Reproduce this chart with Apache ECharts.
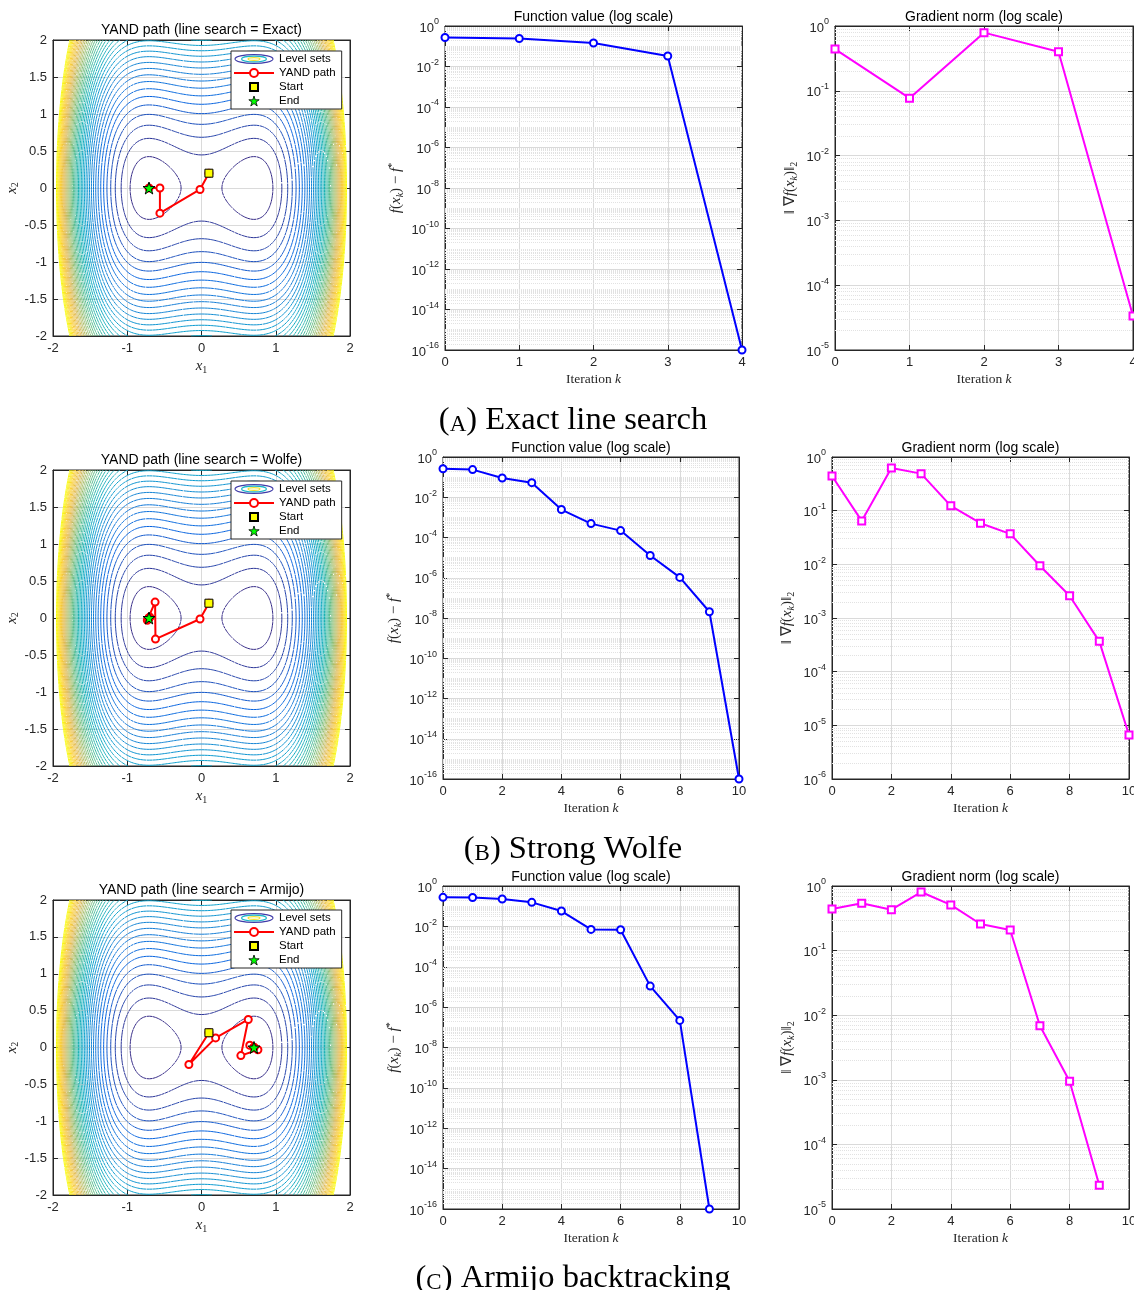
<!DOCTYPE html>
<html>
<head>
<meta charset="utf-8">
<script src="https://cdn.jsdelivr.net/npm/echarts@6/dist/echarts.min.js"></script>
<style>
  html, body { margin: 0; padding: 0; background: #fff; }
  #main { width: 1134px; height: 1290px; }
</style>
</head>
<body>
<div id="main"></div>
<script>
// ---------------- data ----------------
var methodNames = ['Exact', 'Wolfe', 'Armijo'];
var captionLetters = ['A', 'B', 'C'];
var captionTexts = ['Exact line search', 'Strong Wolfe', 'Armijo backtracking'];

// iterates x_k = (x1, x2)
var pathExact = [[0.10, 0.20], [-0.02, -0.02], [-0.56, -0.34], [-0.56, 0.00], [-0.707, 0.00]];
var pathWolfe = [[0.10, 0.20], [-0.02, -0.014], [-0.62, -0.285], [-0.625, 0.215], [-0.73, -0.03],
                 [-0.695, 0.012], [-0.715, -0.008], [-0.708, 0.002], [-0.707, 0.0], [-0.707, 0.0], [-0.707, 0.0]];
var pathArmijo = [[0.10, 0.20], [-0.17, -0.23], [0.19, 0.13], [0.63, 0.38], [0.53, -0.11],
                  [0.76, -0.03], [0.65, 0.03], [0.705, 0.003], [0.707, 0.0], [0.707, 0.0]];

// f(x_k) - f*
var fvalExact = [0.27, 0.24, 0.145, 0.033, 1e-16];
var fvalWolfe = [0.26, 0.236, 0.091, 0.053, 2.45e-3, 4.9e-4, 2.2e-4, 1.28e-5, 1.04e-6, 2.05e-8, 1e-16];
var fvalArmijo = [0.275, 0.27, 0.226, 0.155, 0.0575, 7.1e-3, 6.8e-3, 1.1e-5, 2.2e-7, 1e-16];

// ||grad f(x_k)||_2
var gnormExact = [0.44, 0.077, 0.79, 0.40, 3.35e-5];
var gnormWolfe = [0.443, 0.0645, 0.624, 0.49, 0.123, 0.0584, 0.037, 9.4e-3, 2.6e-3, 3.67e-4, 6.6e-6];
var gnormArmijo = [0.44, 0.54, 0.43, 0.807, 0.51, 0.258, 0.208, 6.85e-3, 9.5e-4, 2.33e-5];

var iterMax = [4, 10, 10];
var iterStep = [1, 2, 2];
var gnormMin = [1e-5, 1e-6, 1e-5];

// contour levels of the objective shown as "Level sets"
var contourLevels = [0.18, 0.45, 0.72, 0.99, 1.26, 1.53, 1.80, 2.07, 2.34, 2.61, 2.88, 3.15, 3.42,
  3.69, 3.96, 4.23, 4.50, 4.77, 5.04, 5.31, 5.58, 5.85, 6.12, 6.39, 6.66, 6.93, 7.20, 7.47, 7.74,
  8.01, 8.28, 8.55, 8.82, 9.09, 9.36, 9.63, 9.90, 10.17, 10.44, 10.71, 10.98];

// objective whose level sets are drawn
function objective(a, b) { return (a * a - 0.5) * (a * a - 0.5) + b * b; }

// ---------------- helpers ----------------
var FONT = 'Liberation Sans, Arial, Helvetica, sans-serif';
var SERIF = 'Liberation Serif, Times New Roman, serif';
var AX = '#262626';

var parula = [[0, [53, 42, 135]], [0.127, [3, 99, 225]], [0.238, [20, 129, 214]], [0.333, [7, 156, 207]],
  [0.444, [21, 177, 180]], [0.556, [89, 189, 140]], [0.667, [165, 190, 107]], [0.778, [225, 185, 82]],
  [0.889, [252, 206, 46]], [1, [249, 251, 14]]];
function parulaColor(t) {
  for (var i = 1; i < parula.length; i++) {
    if (t <= parula[i][0]) {
      var a = parula[i - 1], b = parula[i], u = (t - a[0]) / (b[0] - a[0]);
      var c = a[1].map(function (v, j) { return Math.round(v + (b[1][j] - v) * u); });
      return 'rgb(' + c.join(',') + ')';
    }
  }
  return 'rgb(249,251,14)';
}

// marching squares -> segments separated by gaps
function buildContours(levels, lo, hi, n) {
  var h = (hi - lo) / n, z = [];
  for (var i = 0; i <= n; i++) {
    z.push([]);
    for (var j = 0; j <= n; j++) z[i].push(objective(lo + i * h, lo + j * h));
  }
  var gap = [null, null];
  return levels.map(function (c) {
    var out = [];
    for (var i = 0; i < n; i++) {
      for (var j = 0; j < n; j++) {
        var x0 = lo + i * h, y0 = lo + j * h;
        var a = z[i][j] - c, b = z[i + 1][j] - c, cc = z[i + 1][j + 1] - c, d = z[i][j + 1] - c;
        var p = [];
        if ((a < 0) !== (b < 0)) p.push([x0 + h * a / (a - b), y0]);
        if ((b < 0) !== (cc < 0)) p.push([x0 + h, y0 + h * b / (b - cc)]);
        if ((d < 0) !== (cc < 0)) p.push([x0 + h * d / (d - cc), y0 + h]);
        if ((a < 0) !== (d < 0)) p.push([x0, y0 + h * a / (a - d)]);
        if (p.length === 2) {
          out.push(p[0], p[1], gap);
        } else if (p.length === 4) {
          var m = (a + b + cc + d) / 4;
          if ((m < 0) === (a < 0)) out.push(p[0], p[1], gap, p[2], p[3], gap);
          else out.push(p[0], p[3], gap, p[1], p[2], gap);
        }
      }
    }
    return out;
  });
}

var contourData = buildContours(contourLevels, -2, 2, 200);

var paths = [pathExact, pathWolfe, pathArmijo];
var fvals = [fvalExact, fvalWolfe, fvalArmijo];
var gnorms = [gnormExact, gnormWolfe, gnormArmijo];

var contourBoxes = [{left: 53, top: 40, width: 297, height: 296}, {left: 53, top: 470, width: 297, height: 296}, {left: 53, top: 900, width: 297, height: 295}];
var fvalBoxes = [{left: 445, top: 26, width: 297, height: 324}, {left: 443, top: 457, width: 296, height: 322}, {left: 443, top: 886, width: 296, height: 323}];
var gnormBoxes = [{left: 835, top: 26, width: 298, height: 324}, {left: 832, top: 457, width: 297, height: 322}, {left: 832, top: 886, width: 297, height: 323}];
var legendTops = [51, 481, 910];
var captionY = [418, 847, 1276];

var mathRich = {
  mi: {fontFamily: SERIF, fontStyle: 'italic', fontSize: 15, lineHeight: 18, color: AX},
  rm: {fontFamily: SERIF, fontSize: 15, lineHeight: 18, color: AX},
  sb: {fontFamily: SERIF, fontSize: 10, lineHeight: 10, verticalAlign: 'bottom', color: AX},
  sbi: {fontFamily: SERIF, fontStyle: 'italic', fontSize: 10, lineHeight: 10, verticalAlign: 'bottom', color: AX},
  sp: {fontFamily: SERIF, fontSize: 10, lineHeight: 10, verticalAlign: 'top', color: AX},
  it: {fontFamily: SERIF, fontSize: 13.5, lineHeight: 18, color: AX},
  iti: {fontFamily: SERIF, fontStyle: 'italic', fontSize: 13.5, lineHeight: 18, color: AX}
};
var expRich = {
  b: {fontFamily: FONT, fontSize: 13, lineHeight: 17, verticalAlign: 'bottom', color: AX},
  e: {fontFamily: FONT, fontSize: 9, lineHeight: 10, verticalAlign: 'top', color: AX}
};
function expLabel(v) { return '{b|10}{e|' + Math.round(Math.log10(v)) + '}'; }

var starSymbol = 'path://M50 2 L61.8 38 L99 38 L69 60 L80.5 97 L50 74 L19.5 97 L31 60 L1 38 L38.2 38 Z';
var levelIconSvg = "<svg xmlns='http://www.w3.org/2000/svg' width='40' height='10' viewBox='0 0 40 10'>" +
  "<ellipse cx='20' cy='5' rx='19' ry='4.4' fill='none' stroke='#3e3aa8' stroke-width='1.1'/>" +
  "<ellipse cx='20' cy='5' rx='12.5' ry='2.9' fill='none' stroke='#19b5c8' stroke-width='1.1'/>" +
  "<ellipse cx='20' cy='5' rx='6' ry='1.4' fill='none' stroke='#f0e22a' stroke-width='1.1'/></svg>";
var levelIcon = 'image://data:image/svg+xml;charset=utf-8,' + encodeURIComponent(levelIconSvg);

var grids = [], xAxes = [], yAxes = [], series = [], legends = [], graphics = [];

function addGrid(box) {
  grids.push(Object.assign({show: true, borderColor: AX, borderWidth: 1, containLabel: false, outerBoundsMode: 'none'}, box));
  return grids.length - 1;
}

function tickStyle() { return {show: true, inside: true, length: 5, lineStyle: {color: AX, width: 1}}; }

// main axis + mirrored axis (for the box ticks)
function addAxisPair(list, gi, pos, mirror, cfg, label, name) {
  var main = Object.assign({
    gridIndex: gi, position: pos,
    axisLine: {show: true, onZero: false, lineStyle: {color: AX, width: 1}},
    axisTick: tickStyle(),
    axisLabel: Object.assign({color: AX, fontSize: 13, fontFamily: FONT, margin: 6, showMinLabel: true, showMaxLabel: true}, label),
    splitLine: {show: true, lineStyle: {color: '#dadada', width: 1}}
  }, cfg, name);
  list.push(main);
  var idx = list.length - 1;
  list.push(Object.assign({
    gridIndex: gi, position: mirror,
    axisLine: {show: true, onZero: false, lineStyle: {color: AX, width: 1}},
    axisTick: tickStyle(), axisLabel: {show: false}, splitLine: {show: false}
  }, cfg));
  return idx;
}

function minorLogValues(lo, hi, skipOdd) {
  var out = [];
  for (var e = lo; e < hi; e++) {
    for (var m = (skipOdd && (e % 2 !== 0)) ? 1 : 2; m <= 9; m++) out.push(m * Math.pow(10, e));
  }
  return out;
}

function minorGrid(values) {
  return {silent: true, z: 1, precision: 20, symbol: ['none', 'none'], label: {show: false}, animation: false,
    emphasis: {disabled: true}, lineStyle: {type: 'dotted', color: '#e2e2e2', width: 1},
    data: values.map(function (v) { return {yAxis: v}; })};
}

for (var r = 0; r < 3; r++) {
  // ---- contour panel ----
  var gi = addGrid(contourBoxes[r]);
  var xi = addAxisPair(xAxes, gi, 'bottom', 'top', {type: 'value', min: -2, max: 2, interval: 1}, {},
    {name: '{mi|x}{sb|1}', nameLocation: 'middle', nameGap: 21, nameTextStyle: {rich: mathRich}});
  var yi = addAxisPair(yAxes, gi, 'left', 'right', {type: 'value', min: -2, max: 2, interval: 0.5}, {},
    {name: '{mi|x}{sb|2}', nameLocation: 'middle', nameGap: 30, nameRotate: 90, nameTextStyle: {rich: mathRich}});
  var lmin = contourLevels[0], lmax = contourLevels[contourLevels.length - 1];
  contourLevels.forEach(function (lv, li) {
    series.push({
      type: 'line', name: 'Level sets', xAxisIndex: xi, yAxisIndex: yi,
      data: contourData[li], showSymbol: false, symbol: 'none', silent: true, z: 2,
      lineStyle: {color: parulaColor((lv - lmin) / (lmax - lmin)), width: 1}
    });
  });
  var path = paths[r];
  series.push({
    type: 'line', name: 'YAND path', xAxisIndex: xi, yAxisIndex: yi, data: path, z: 3,
    symbol: 'emptyCircle', symbolSize: 7, showSymbol: true,
    lineStyle: {color: '#ff0000', width: 2}, itemStyle: {color: '#ff0000', borderWidth: 1.5}
  });
  series.push({
    type: 'line', name: 'Start', xAxisIndex: xi, yAxisIndex: yi, data: [path[0]], z: 4,
    symbol: 'rect', symbolSize: 8, lineStyle: {width: 0, opacity: 0},
    itemStyle: {color: '#ffff00', borderColor: '#000', borderWidth: 1}
  });
  series.push({
    type: 'line', name: 'End', xAxisIndex: xi, yAxisIndex: yi, data: [path[path.length - 1]], z: 4,
    symbol: starSymbol, symbolSize: 12, lineStyle: {width: 0, opacity: 0},
    itemStyle: {color: '#00ff00', borderColor: '#000', borderWidth: 1}
  });
  legends.push({
    left: 231, top: legendTops[r], orient: 'vertical', itemGap: 0, itemWidth: 40, itemHeight: 10,
    padding: [1, 6, 1, 2], backgroundColor: '#fff', borderColor: AX, borderWidth: 1, selectedMode: false,
    textStyle: {fontSize: 11.5, color: '#000', fontFamily: FONT, lineHeight: 14},
    data: [
      {name: 'Level sets', icon: levelIcon},
      'YAND path',
      'Start',
      {name: 'End', icon: starSymbol, itemStyle: {color: '#00ff00', borderColor: '#000', borderWidth: 0.8}}
    ]
  });
  var cb = contourBoxes[r];
  graphics.push({type: 'text', x: cb.left + cb.width / 2, y: cb.top - 10, z: 10,
    style: {text: 'YAND path (line search = ' + methodNames[r] + ')', fontSize: 14, fontFamily: FONT, fill: '#000', align: 'center', verticalAlign: 'middle'}});

  // ---- function value panel ----
  var fb = fvalBoxes[r];
  gi = addGrid(fb);
  xi = addAxisPair(xAxes, gi, 'bottom', 'top', {type: 'value', min: 0, max: iterMax[r], interval: iterStep[r]}, {},
    {name: '{it|Iteration }{iti|k}', nameLocation: 'middle', nameGap: 20, nameTextStyle: {rich: mathRich}});
  yi = addAxisPair(yAxes, gi, 'left', 'right', {type: 'log', logBase: 100, min: 1e-16, max: 1, splitNumber: 8},
    {formatter: expLabel, rich: expRich},
    {name: '{mi|f}{rm|(}{mi|x}{sbi|k}{rm|) − }{mi|f}{sp|*}', nameLocation: 'middle', nameGap: 40, nameRotate: 90, nameTextStyle: {rich: mathRich}});
  series.push({
    type: 'line', name: 'fval', xAxisIndex: xi, yAxisIndex: yi, z: 3, clip: false,
    data: fvals[r].map(function (v, k) { return [k, v]; }),
    symbol: 'emptyCircle', symbolSize: 7, lineStyle: {color: '#0000ff', width: 2},
    itemStyle: {color: '#0000ff', borderWidth: 1.6},
    markLine: minorGrid(minorLogValues(-16, 0, true))
  });
  graphics.push({type: 'text', x: fb.left + fb.width / 2, y: fb.top - 9, z: 10,
    style: {text: 'Function value (log scale)', fontSize: 14, fontFamily: FONT, fill: '#000', align: 'center', verticalAlign: 'middle'}});

  // ---- gradient norm panel ----
  var gb = gnormBoxes[r];
  gi = addGrid(gb);
  xi = addAxisPair(xAxes, gi, 'bottom', 'top', {type: 'value', min: 0, max: iterMax[r], interval: iterStep[r]}, {},
    {name: '{it|Iteration }{iti|k}', nameLocation: 'middle', nameGap: 20, nameTextStyle: {rich: mathRich}});
  var gexp = Math.round(Math.log10(gnormMin[r]));
  yi = addAxisPair(yAxes, gi, 'left', 'right', {type: 'log', logBase: 10, min: gnormMin[r], max: 1, splitNumber: -gexp},
    {formatter: expLabel, rich: expRich},
    {name: '{rm|‖ ∇}{mi|f}{rm|(}{mi|x}{sbi|k}{rm|)‖}{sb|2}', nameLocation: 'middle', nameGap: 36, nameRotate: 90, nameTextStyle: {rich: mathRich}});
  series.push({
    type: 'line', name: 'gnorm', xAxisIndex: xi, yAxisIndex: yi, z: 3, clip: false,
    data: gnorms[r].map(function (v, k) { return [k, v]; }),
    symbol: 'emptyRect', symbolSize: 7, lineStyle: {color: '#ff00ff', width: 2},
    itemStyle: {color: '#ff00ff', borderWidth: 1.6},
    markLine: minorGrid(minorLogValues(gexp, 0, false))
  });
  graphics.push({type: 'text', x: gb.left + gb.width / 2, y: gb.top - 9, z: 10,
    style: {text: 'Gradient norm (log scale)', fontSize: 14, fontFamily: FONT, fill: '#000', align: 'center', verticalAlign: 'middle'}});

  // ---- caption ----
  graphics.push({type: 'text', x: 573, y: captionY[r], z: 10,
    style: {
      text: '{p|(}{s|' + captionLetters[r] + '}{p|) ' + captionTexts[r] + '}',
      align: 'center', verticalAlign: 'middle', fill: '#000',
      rich: {
        p: {fontFamily: SERIF, fontSize: 32.5, fill: '#000', lineHeight: 37, verticalAlign: 'bottom'},
        s: {fontFamily: SERIF, fontSize: 23, fill: '#000', verticalAlign: 'bottom'}
      }
    }});
}

var chart = echarts.init(document.getElementById('main'));
chart.setOption({
  animation: false,
  backgroundColor: '#fff',
  textStyle: {fontFamily: FONT},
  grid: grids,
  xAxis: xAxes,
  yAxis: yAxes,
  legend: legends,
  graphic: graphics,
  series: series
});
</script>
</body>
</html>
